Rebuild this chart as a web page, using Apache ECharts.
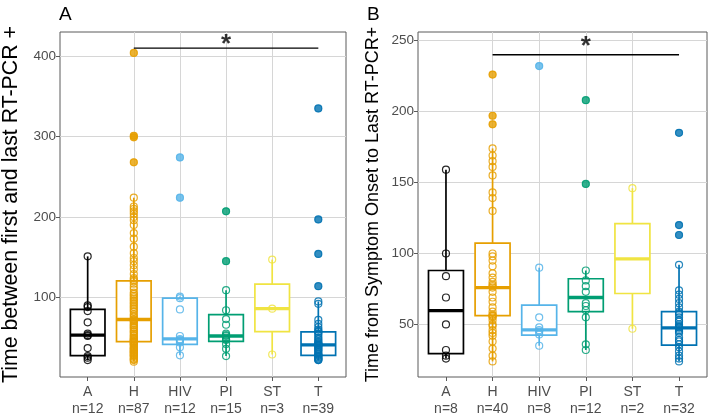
<!DOCTYPE html>
<html><head><meta charset="utf-8">
<script src="https://cdn.jsdelivr.net/npm/echarts@6/dist/echarts.min.js"></script>
<style>html,body{margin:0;padding:0;background:#fff}#c{width:709px;height:418px}</style>
</head><body><div id="c"></div>
<script>
// ---- data ----
const categories = ['A','H','HIV','PI','ST','T'];
const groupColors = ['#000000','#E69F00','#56B4E9','#009E73','#F0E442','#0072B2'];
const nLabelsA = ['n=12','n=87','n=12','n=15','n=3','n=39'];
const nLabelsB = ['n=8','n=40','n=8','n=12','n=2','n=32'];
const yTicksA = [100,200,300,400];
const yTicksB = [50,100,150,200,250];

// Panel A: time between first and last RT-PCR +
const a_A = [151, 90, 88, 83, 69, 55, 53, 52, 37, 27, 25, 22];
const a_H = [404, 301, 299, 268, 224, 213, 210, 207, 204, 200, 196, 190, 180, 173, 163, 155, 149, 145, 140, 135, 129, 124, 122,
  120, 117, 113, 110, 106, 104, 102, 100, 98, 96, 94, 92, 90, 88, 86, 84, 82, 79, 77, 75, 73,
  72, 71, 70, 68, 66, 65, 63, 62, 60, 58, 57, 55, 53, 52, 50, 49, 48, 47, 46, 45, 45,
  44, 43, 42, 41, 40, 38, 37, 36, 35, 34, 33, 32, 31, 30, 29, 28, 27, 26, 24, 23, 22, 20];
const a_HIV = [274, 224, 101, 99, 85, 52, 48, 47, 46, 44, 38, 28];
const a_PI = [207, 145, 109, 84, 73, 66, 55, 53, 52, 50, 48, 47, 42, 36, 27];
const a_ST = [147, 86, 29];
const a_T = [335, 197, 154, 114, 95, 92, 72, 67, 63, 60, 58, 57, 55, 53, 50, 48, 46, 44, 43, 42, 41, 41, 40, 39, 38, 36, 35, 34, 32, 30, 29, 28, 27, 26, 25, 24, 23, 22, 22];
const lowA  = [22, 20, 28, 27, 29, 22];
const q1A   = [27.5, 45, 41.6, 45.3, 57.5, 28];
const medA  = [53, 72.5, 48.5, 52, 86, 41];
const q3A   = [85, 120.5, 99, 78.6, 116.5, 57];
const highA = [151, 224, 101, 109, 147, 95];
const sigA = [1, 5, 410, 421]; // from, to, bar value, star value

// Panel B: time from symptom onset to last RT-PCR+
const b_A = [159, 100, 84, 69, 50, 32, 28, 26];
const b_H = [226, 197, 191, 174, 169, 165, 161, 155, 143, 139, 130, 100, 98, 95, 91, 86, 83, 80, 78, 77,
  76, 73, 69, 66, 62, 59, 57, 56, 56, 55, 53, 50, 49, 46, 44, 42, 38, 33, 28, 24];
const b_HIV = [232, 90, 55, 48, 46, 45, 43, 35];
const b_PI = [208, 149, 88, 81, 77, 73, 65, 63, 60, 55, 36, 32];
const b_ST = [146, 47];
const b_T = [185, 120, 113, 92, 74, 71, 68, 65, 62, 59, 58, 57, 55, 53, 52, 50, 49, 48, 48, 47, 46, 45, 44, 41, 39, 38, 36, 34, 31, 28, 26, 24];
const lowB  = [26, 24, 35, 32, 47, 24];
const q1B   = [29.5, 56.2, 42.5, 59, 71.8, 35.5];
const medB  = [59.7, 76, 46.2, 69, 96.2, 47.6];
const q3B   = [88, 107.3, 63.6, 82.2, 121, 59];
const highB = [159, 174, 90, 88, 146, 92];
const sigB = [1, 5, 240, 250];

// ---- build ----
const ptsA = [a_A, a_H, a_HIV, a_PI, a_ST, a_T];
const ptsB = [b_A, b_H, b_HIV, b_PI, b_ST, b_T];
const catIdx = categories.map((c, i) => i);
const FONT = 'Liberation Sans, Arial, Helvetica, sans-serif';
const FRAME = '#5a5a5a';
const MAJOR = '#d6d6d6';
const MINOR = '#ececec';

function renderBox(params, api) {
  const i = api.value(0);
  const lo = api.coord([i, api.value(1)]);
  const q1 = api.coord([i, api.value(2)]);
  const md = api.coord([i, api.value(3)]);
  const q3 = api.coord([i, api.value(4)]);
  const hi = api.coord([i, api.value(5)]);
  const hw = api.size([0.75, 0])[0] / 2;
  const col = groupColors[i];
  return {type: 'group', children: [
    {type: 'line', shape: {x1: lo[0], y1: lo[1], x2: q1[0], y2: q1[1]}, style: {stroke: col, lineWidth: 1.7}},
    {type: 'line', shape: {x1: q3[0], y1: q3[1], x2: hi[0], y2: hi[1]}, style: {stroke: col, lineWidth: 1.7}},
    {type: 'rect', shape: {x: q3[0] - hw, y: q3[1], width: 2 * hw, height: q1[1] - q3[1]}, style: {stroke: col, lineWidth: 1.7, fill: '#ffffff'}},
    {type: 'line', shape: {x1: md[0] - hw, y1: md[1], x2: md[0] + hw, y2: md[1]}, style: {stroke: col, lineWidth: 3.3}}
  ]};
}

function xAxisFor(gi, nLabels) {
  return {
    gridIndex: gi, type: 'value', min: -0.6, max: 5.6, minInterval: 1, maxInterval: 1, splitNumber: 6,
    axisLine: {show: false, onZero: false},
    axisTick: {show: true, length: 4, customValues: catIdx, lineStyle: {color: FRAME}},
    axisLabel: {customValues: catIdx, formatter: v => categories[v] + '\n' + nLabels[v],
      fontSize: 14, lineHeight: 17, color: '#4d4d4d', margin: 7, fontFamily: FONT},
    splitLine: {show: true, showMinLine: false, showMaxLine: false, lineStyle: {color: MAJOR, width: 1}}
  };
}
function yAxisFor(gi, mn, mx, step, ticks, name, nameSize, nameGap) {
  return {
    gridIndex: gi, type: 'value', position: 'left', min: mn, max: mx, minInterval: step, maxInterval: step, splitNumber: 10,
    axisLine: {show: false, onZero: false},
    axisTick: {show: true, length: 4, customValues: ticks, lineStyle: {color: FRAME}},
    axisLabel: {customValues: ticks, fontSize: 13.5, color: '#4d4d4d', margin: 4, fontFamily: FONT},
    splitLine: {show: true, showMinLine: false, showMaxLine: false, lineStyle: {color: MINOR, width: 1}},
    name: name, nameLocation: 'middle', nameGap: nameGap,
    nameTextStyle: {fontSize: nameSize, color: '#000', fontFamily: FONT}
  };
}
// hidden companion axis that draws only the major grid lines
function yMajorFor(gi, mn, mx, step) {
  return {
    gridIndex: gi, type: 'value', position: 'right', min: mn, max: mx, minInterval: step, maxInterval: step, splitNumber: 5,
    axisLine: {show: false, onZero: false}, axisTick: {show: false}, axisLabel: {show: false},
    splitLine: {show: true, showMinLine: false, showMaxLine: false, lineStyle: {color: MAJOR, width: 1}}
  };
}

function panelSeries(gi, pts, low, q1, med, q3, high, sig) {
  const boxData = catIdx.map(i => [i, low[i], q1[i], med[i], q3[i], high[i]]);
  const open = [], filled = [];
  pts.forEach((arr, i) => arr.forEach(v => {
    open.push({value: [i, v], itemStyle: {borderColor: groupColors[i]}});
    if (v > high[i] || v < low[i]) filled.push({value: [i, v], itemStyle: {color: groupColors[i]}});
  }));
  return [
    {type: 'custom', xAxisIndex: gi, yAxisIndex: gi, renderItem: renderBox, data: boxData, z: 2, silent: true,
      encode: {x: 0, y: [1, 2, 3, 4, 5]}},
    {type: 'scatter', xAxisIndex: gi, yAxisIndex: gi, data: filled, symbol: 'circle', symbolSize: 7.5, z: 3, silent: true},
    {type: 'scatter', xAxisIndex: gi, yAxisIndex: gi, data: open, symbol: 'circle', symbolSize: 7, z: 4, silent: true,
      itemStyle: {color: 'rgba(255,255,255,0)', borderWidth: 1.2, opacity: 0.85}},
    {type: 'line', xAxisIndex: gi, yAxisIndex: gi, data: [[sig[0], sig[2]], [sig[1], sig[2]]], symbol: 'none', z: 5, silent: true,
      lineStyle: {color: '#000', width: 1.4}},
    {type: 'scatter', xAxisIndex: gi, yAxisIndex: gi, data: [[(sig[0] + sig[1]) / 2, sig[3]]], symbolSize: 1, z: 5, silent: true,
      itemStyle: {color: 'rgba(0,0,0,0)'},
      label: {show: true, position: 'inside', formatter: '*', fontSize: 26, fontWeight: 'bold', color: '#000', fontFamily: FONT, offset: [0, 6]}}
  ];
}

const chart = echarts.init(document.getElementById('c'), null, {renderer: 'canvas'});
chart.setOption({
  animation: false,
  backgroundColor: '#fff',
  textStyle: {fontFamily: FONT},
  title: [
    {text: 'A', left: 54, top: 0, textStyle: {fontSize: 19, fontWeight: 'normal', color: '#000', fontFamily: FONT}},
    {text: 'B', left: 362, top: 0, textStyle: {fontSize: 19, fontWeight: 'normal', color: '#000', fontFamily: FONT}}
  ],
  grid: [
    {left: 57, top: 32, width: 289, height: 348, show: true, borderColor: FRAME, borderWidth: 1, backgroundColor: 'rgba(0,0,0,0)', containLabel: false},
    {left: 418, top: 32, width: 289, height: 348, show: true, borderColor: FRAME, borderWidth: 1, backgroundColor: 'rgba(0,0,0,0)', containLabel: false}
  ],
  xAxis: [xAxisFor(0, nLabelsA), xAxisFor(1, nLabelsB)],
  yAxis: [
    yAxisFor(0, 1, 430, 50, yTicksA, 'Time between first and last RT-PCR +', 21.3, 38),
    yAxisFor(1, 13, 256, 25, yTicksB, 'Time from Symptom Onset to Last RT-PCR+', 18, 36),
    yMajorFor(0, 1, 430, 100),
    yMajorFor(1, 13, 256, 50)
  ],
  series: [].concat(
    panelSeries(0, ptsA, lowA, q1A, medA, q3A, highA, sigA),
    panelSeries(1, ptsB, lowB, q1B, medB, q3B, highB, sigB)
  )
});
</script></body></html>
